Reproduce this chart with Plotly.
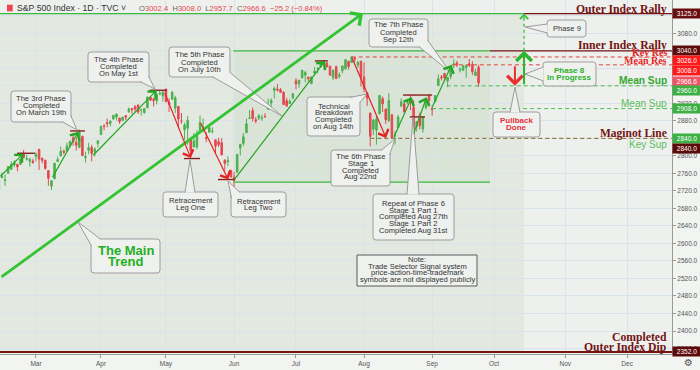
import plotly.graph_objects as go

# ---------------- data (S&P 500 Index, daily, 2019) ----------------
dates = [
    "2019-02-12", "2019-02-13", "2019-02-14", "2019-02-15", "2019-02-19", "2019-02-20",
    "2019-02-21", "2019-02-22", "2019-02-25", "2019-02-26", "2019-02-27", "2019-02-28",
    "2019-03-01", "2019-03-04", "2019-03-05", "2019-03-06", "2019-03-07", "2019-03-08",
    "2019-03-11", "2019-03-12", "2019-03-13", "2019-03-14", "2019-03-15", "2019-03-18",
    "2019-03-19", "2019-03-20", "2019-03-21", "2019-03-22", "2019-03-25", "2019-03-26",
    "2019-03-27", "2019-03-28", "2019-03-29",
    "2019-04-01", "2019-04-02", "2019-04-03", "2019-04-04", "2019-04-05", "2019-04-08",
    "2019-04-09", "2019-04-10", "2019-04-11", "2019-04-12", "2019-04-15", "2019-04-16",
    "2019-04-17", "2019-04-18", "2019-04-22", "2019-04-23", "2019-04-24", "2019-04-25",
    "2019-04-26", "2019-04-29", "2019-04-30",
    "2019-05-01", "2019-05-02", "2019-05-03", "2019-05-06", "2019-05-07", "2019-05-08",
    "2019-05-09", "2019-05-10", "2019-05-13", "2019-05-14", "2019-05-15", "2019-05-16",
    "2019-05-17", "2019-05-20", "2019-05-21", "2019-05-22", "2019-05-23", "2019-05-24",
    "2019-05-28", "2019-05-29", "2019-05-30", "2019-05-31",
    "2019-06-03", "2019-06-04", "2019-06-05", "2019-06-06", "2019-06-07", "2019-06-10",
    "2019-06-11", "2019-06-12", "2019-06-13", "2019-06-14", "2019-06-17", "2019-06-18",
    "2019-06-19", "2019-06-20", "2019-06-21", "2019-06-24", "2019-06-25", "2019-06-26",
    "2019-06-27", "2019-06-28",
    "2019-07-01", "2019-07-02", "2019-07-03", "2019-07-05", "2019-07-08", "2019-07-09",
    "2019-07-10", "2019-07-11", "2019-07-12", "2019-07-15", "2019-07-16", "2019-07-17",
    "2019-07-18", "2019-07-19", "2019-07-22", "2019-07-23", "2019-07-24", "2019-07-25",
    "2019-07-26", "2019-07-29", "2019-07-30", "2019-07-31",
    "2019-08-01", "2019-08-02", "2019-08-05", "2019-08-06", "2019-08-07", "2019-08-08",
    "2019-08-09", "2019-08-12", "2019-08-13", "2019-08-14", "2019-08-15", "2019-08-16",
    "2019-08-19", "2019-08-20", "2019-08-21", "2019-08-22", "2019-08-23", "2019-08-26",
    "2019-08-27", "2019-08-28", "2019-08-29", "2019-08-30",
    "2019-09-03", "2019-09-04", "2019-09-05", "2019-09-06", "2019-09-09", "2019-09-10",
    "2019-09-11", "2019-09-12", "2019-09-13", "2019-09-16", "2019-09-17", "2019-09-18",
    "2019-09-19", "2019-09-20", "2019-09-23", "2019-09-24",
]
opens = [
    2722.6, 2750.3, 2743.5, 2760.2, 2769.3, 2779.1, 2780.7, 2780.7, 2804.4, 2792.4, 2787.5, 2788.1,
    2798.2, 2814.4, 2794.4, 2790.3, 2766.5, 2730.8, 2747.6, 2787.3, 2799.8, 2810.4, 2810.8, 2822.6,
    2840.8, 2831.3, 2819.7, 2844.5, 2796.0, 2812.7, 2819.7, 2809.4, 2828.3,
    2848.6, 2868.2, 2876.1, 2874.0, 2884.2, 2888.5, 2886.6, 2881.4, 2891.9, 2900.9, 2908.3, 2912.3,
    2916.0, 2904.8, 2898.8, 2910.0, 2934.0, 2929.0, 2925.8, 2940.6, 2937.1,
    2952.3, 2922.2, 2929.2, 2908.9, 2913.0, 2879.6, 2859.8, 2863.1, 2840.2, 2820.1, 2820.4, 2855.8,
    2858.6, 2841.9, 2854.0, 2856.1, 2836.7, 2832.4, 2830.0, 2790.3, 2786.9, 2766.2,
    2751.5, 2762.6, 2818.1, 2828.5, 2852.9, 2885.8, 2903.3, 2882.7, 2886.2, 2886.8, 2889.8, 2906.7,
    2920.6, 2949.6, 2952.7, 2951.4, 2945.8, 2926.1, 2919.7, 2932.9,
    2971.4, 2964.7, 2978.1, 2984.3, 2979.8, 2965.5, 2989.3, 2999.6, 3003.4, 3017.8, 3012.1, 3005.1,
    2978.9, 3004.3, 2981.9, 2994.7, 2998.8, 3016.3, 3013.3, 3024.5, 3007.7, 3016.2,
    2980.3, 2943.9, 2898.1, 2861.2, 2858.7, 2896.2, 2930.5, 2907.1, 2880.7, 2894.2, 2846.2, 2864.7,
    2913.5, 2919.0, 2922.0, 2930.9, 2911.1, 2866.7, 2893.1, 2861.3, 2910.4, 2937.1,
    2909.0, 2924.7, 2960.6, 2980.3, 2988.4, 2971.0, 2981.4, 3009.1, 3012.2, 2996.4, 2995.7, 3001.5,
    3010.4, 3008.4, 2983.5, 3002.4,
]
highs = [
    2748.2, 2761.9, 2757.9, 2775.7, 2787.3, 2789.9, 2781.6, 2794.2, 2813.5, 2803.1, 2795.8, 2793.7,
    2808.0, 2816.9, 2796.4, 2790.3, 2766.5, 2744.1, 2784.0, 2798.3, 2821.2, 2815.0, 2830.7, 2835.4,
    2852.4, 2843.5, 2860.3, 2846.2, 2809.8, 2829.9, 2825.6, 2819.7, 2836.0,
    2869.4, 2872.9, 2885.3, 2881.3, 2893.2, 2896.0, 2886.9, 2889.7, 2893.4, 2910.5, 2909.6, 2916.1,
    2918.0, 2908.4, 2909.5, 2936.3, 2936.8, 2933.1, 2939.9, 2949.5, 2948.2,
    2954.1, 2931.7, 2947.9, 2937.3, 2913.0, 2898.0, 2876.0, 2891.3, 2840.2, 2852.5, 2858.7, 2892.2,
    2885.5, 2853.9, 2868.9, 2865.5, 2836.7, 2841.4, 2840.5, 2792.0, 2799.0, 2769.0,
    2763.1, 2804.5, 2827.3, 2852.1, 2885.0, 2904.8, 2910.6, 2888.6, 2895.2, 2894.5, 2897.3, 2930.8,
    2931.7, 2958.1, 2964.2, 2954.9, 2946.5, 2932.6, 2929.3, 2944.0,
    2977.9, 2973.2, 2995.8, 2994.0, 2980.8, 2981.9, 3003.0, 3002.3, 3013.9, 3017.8, 3015.0, 3005.3,
    2998.3, 3006.0, 2990.7, 3005.9, 3019.6, 3016.3, 3028.0, 3025.6, 3017.2, 3017.4,
    3013.6, 2945.5, 2898.1, 2884.4, 2892.2, 2938.7, 2935.8, 2907.6, 2943.3, 2894.2, 2856.7, 2893.6,
    2931.0, 2923.6, 2928.7, 2939.1, 2927.0, 2879.3, 2898.8, 2890.0, 2930.5, 2940.4,
    2914.4, 2938.8, 2985.9, 2985.0, 2989.4, 2979.4, 3000.9, 3020.7, 3017.3, 3002.2, 3006.2, 3007.8,
    3021.2, 3016.4, 2999.2, 3008.0,
]
lows = [
    2722.6, 2748.6, 2731.2, 2760.2, 2767.3, 2774.1, 2764.6, 2779.1, 2795.0, 2789.5, 2775.1, 2782.5,
    2787.4, 2767.7, 2783.0, 2768.7, 2732.1, 2722.3, 2747.6, 2786.7, 2799.8, 2803.5, 2810.8, 2822.0,
    2823.3, 2812.4, 2817.4, 2800.5, 2785.0, 2804.0, 2787.7, 2798.8, 2819.2,
    2848.6, 2858.8, 2865.2, 2867.1, 2883.0, 2880.8, 2873.3, 2879.1, 2882.0, 2898.4, 2896.5, 2900.7,
    2895.5, 2891.9, 2896.4, 2908.5, 2926.1, 2912.8, 2917.6, 2939.4, 2924.1,
    2923.4, 2900.5, 2929.2, 2898.2, 2862.6, 2873.3, 2836.4, 2825.4, 2801.4, 2820.1, 2815.1, 2855.8,
    2854.2, 2831.3, 2854.0, 2851.1, 2805.5, 2820.2, 2801.6, 2766.1, 2776.7, 2750.5,
    2728.8, 2762.6, 2800.9, 2822.5, 2852.9, 2885.5, 2878.5, 2874.7, 2882.0, 2879.6, 2887.3, 2905.4,
    2911.4, 2931.5, 2946.9, 2944.1, 2916.0, 2913.0, 2918.6, 2929.1,
    2952.2, 2955.9, 2978.0, 2968.0, 2970.1, 2963.4, 2984.6, 2988.8, 3001.9, 3008.8, 3001.2, 2984.3,
    2973.1, 2975.9, 2976.7, 2988.6, 2996.8, 2997.2, 3012.6, 3014.3, 3000.9, 2958.1,
    2945.2, 2914.1, 2822.1, 2847.4, 2825.7, 2894.5, 2900.2, 2873.1, 2877.1, 2839.6, 2825.5, 2864.7,
    2913.5, 2899.6, 2917.9, 2904.5, 2835.0, 2856.0, 2860.6, 2853.1, 2905.7, 2913.3,
    2891.9, 2921.9, 2960.6, 2972.5, 2969.4, 2957.0, 2975.3, 3000.9, 3002.9, 2990.7, 2993.7, 2978.6,
    3003.2, 2984.7, 2982.2, 2957.7,
]
closes = [
    2744.7, 2753.0, 2745.7, 2775.6, 2779.8, 2784.7, 2774.9, 2792.7, 2796.1, 2793.9, 2792.4, 2784.5,
    2803.7, 2792.8, 2789.7, 2771.5, 2748.9, 2743.1, 2783.3, 2791.5, 2810.9, 2808.5, 2822.5, 2832.9,
    2832.6, 2824.2, 2854.9, 2800.7, 2798.4, 2818.5, 2805.4, 2815.4, 2834.4,
    2867.2, 2867.2, 2873.4, 2879.4, 2892.7, 2895.8, 2878.2, 2888.2, 2888.3, 2907.4, 2905.6, 2907.1,
    2900.5, 2905.0, 2908.0, 2933.7, 2927.3, 2926.2, 2939.9, 2943.0, 2945.8,
    2923.7, 2917.5, 2945.6, 2932.5, 2884.1, 2879.4, 2870.7, 2881.4, 2811.9, 2834.4, 2851.0, 2876.3,
    2859.5, 2840.2, 2864.4, 2856.3, 2822.2, 2826.1, 2802.4, 2783.0, 2788.9, 2752.1,
    2744.5, 2803.3, 2826.2, 2843.5, 2873.3, 2886.7, 2885.7, 2879.8, 2891.6, 2887.0, 2889.7, 2917.8,
    2926.5, 2954.2, 2950.5, 2945.4, 2917.4, 2913.8, 2924.9, 2941.8,
    2964.3, 2973.0, 2995.8, 2990.4, 2976.0, 2979.6, 2993.1, 2999.9, 3013.8, 3014.3, 3004.0, 2984.4,
    2995.1, 2976.6, 2985.0, 3005.5, 3019.6, 3003.7, 3025.9, 3021.0, 3013.2, 2980.4,
    2953.6, 2932.1, 2844.7, 2881.8, 2884.0, 2938.1, 2918.7, 2882.7, 2926.3, 2840.6, 2847.6, 2888.7,
    2923.7, 2900.5, 2924.4, 2923.0, 2847.1, 2878.4, 2869.2, 2887.9, 2924.6, 2926.5,
    2906.3, 2937.8, 2976.0, 2978.7, 2978.4, 2979.4, 3000.9, 3009.6, 3007.4, 2998.0, 3005.7, 3006.7,
    3006.8, 2992.1, 2991.8, 2966.6,
]

holidays = ["2019-02-18", "2019-04-19", "2019-05-27", "2019-07-04", "2019-09-02", "2019-11-28"]
month_ticks = ["2019-03-01", "2019-04-01", "2019-05-01", "2019-06-03", "2019-07-01",
               "2019-08-01", "2019-09-03", "2019-10-01", "2019-11-01", "2019-12-02"]
month_labels = ["Mar", "Apr", "May", "Jun", "Jul", "Aug", "Sep", "Oct", "Nov", "Dec"]

# key price levels
OUTER_RALLY = 3125.0
INNER_RALLY = 3040.0
KEY_RES = 3026.0
MEAN_RES = 3008.0
LAST_PRICE = 2966.6
MEAN_SUP = 2960.0
MEAN_SUP_2 = 2908.0
MAGINOT = 2840.0
KEY_SUP = 2840.0
INNER_FLOOR = 2740.0
OUTER_DIP = 2352.0

# phase arrows: (start date, start price, end date, end price, kind)
phase_arrows = [
    ("2019-02-12 12:00", 2750, "2019-02-25 09:36", 2805, "up"),
    ("2019-03-08 14:00", 2748, "2019-03-21 04:00", 2855, "up"),
    ("2019-03-27 12:00", 2798, "2019-04-26 12:00", 2950, "up"),
    ("2019-04-30 22:48", 2947, "2019-05-13 12:00", 2795, "down"),
    ("2019-05-16 12:00", 2878, "2019-05-30 15:00", 2746, "down"),
    ("2019-06-03 06:00", 2743, "2019-07-15 21:36", 3017, "up"),
    ("2019-07-26 12:00", 3026, "2019-08-12 14:24", 2841, "down"),
    ("2019-08-14 22:48", 2840, "2019-08-22 21:36", 2934, "up"),
    ("2019-08-23 09:36", 2848, "2019-08-29 16:48", 2934, "up"),
    ("2019-09-03 08:24", 2909, "2019-09-11 19:12", 3008, "up"),
]
main_trend = ("2019-02-12 20:53", 2521, "2019-08-01 03:36", 3126)
pullback = ("2019-10-10 06:00", MEAN_RES, MEAN_SUP)
phase8 = ("2019-10-15 04:48", MEAN_SUP, INNER_RALLY)
phase9 = ("2019-10-15 04:48", INNER_RALLY, OUTER_RALLY)

# phase turning-point markers: (from, to, price)
peak_bars = [
    ("2019-02-21 09:36", "2019-03-01 04:48", 2806),
    ("2019-03-18 12:00", "2019-03-25 07:12", 2857),
    ("2019-04-24 07:12", "2019-05-01 19:12", 2950),
    ("2019-05-09 07:12", "2019-05-16 12:00", 2794),
    ("2019-05-24 07:12", "2019-06-03 19:12", 2746),
    ("2019-07-10 14:24", "2019-07-16 19:12", 3017),
    ("2019-08-20 02:24", "2019-09-03 12:00", 2939),
    ("2019-08-22 07:12", "2019-08-29 04:48", 2889),
]

X_LEFT = "2019-02-12 20:53"
X_RIGHT = "2019-12-20 23:59"
ZONE_END = "2019-10-15 04:48"
BOX_START = "2019-06-03 06:00"
BOX_END = "2019-09-30 04:48"
Y_RANGE = [2347.5, 3156.1]

# ---------------- styling ----------------
W, H = 700, 370
MR, MB = 28, 16
PW, PH = W - MR, H - MB

ARROW_GREEN = "#22a722"
RED = "#e52222"
DARK_RED = "#741414"
UP_C = "#4cb050"
DN_C = "#e5474f"
GRID = "#d9e3ea"
SANS = "Liberation Sans, Arial, sans-serif"
SERIF = "Liberation Serif, Times New Roman, serif"


def P(x, y):
    return f"{x / PW:.5f},{1 - y / PH:.5f}"


def rr_path(x0, y0, x1, y1, r=3.0):
    return (f"M{P(x0 + r, y0)} L{P(x1 - r, y0)} Q{P(x1, y0)} {P(x1, y0 + r)} "
            f"L{P(x1, y1 - r)} Q{P(x1, y1)} {P(x1 - r, y1)} L{P(x0 + r, y1)} "
            f"Q{P(x0, y1)} {P(x0, y1 - r)} L{P(x0, y0 + r)} Q{P(x0, y0)} {P(x0 + r, y0)} Z")


fig = go.Figure()
fig.add_trace(go.Candlestick(
    x=[d + " 12:00" for d in dates], open=opens, high=highs, low=lows, close=closes,
    increasing=dict(line=dict(color=UP_C, width=1), fillcolor=UP_C),
    decreasing=dict(line=dict(color=DN_C, width=1), fillcolor=DN_C),
    whiskerwidth=0, showlegend=False, hoverinfo="skip",
))

shapes = []
annotations = []

# shaded zones
shapes.append(dict(type="rect", xref="x", yref="y", x0="2019-02-01", x1=ZONE_END,
                   y0=OUTER_DIP, y1=OUTER_RALLY, fillcolor="#e3e9e1", line_width=0, layer="below"))
shapes.append(dict(type="rect", xref="x", yref="y", x0=BOX_START, x1=BOX_END,
                   y0=INNER_FLOOR, y1=INNER_RALLY, fillcolor="#d9e3d6", line_width=0, layer="below"))


def hline(x0, x1, y, color, width=1.0, dash="solid", layer="above"):
    shapes.append(dict(type="line", xref="x", yref="y", x0=x0, x1=x1, y0=y, y1=y,
                       line=dict(color=color, width=width, dash=dash), layer=layer))


hline("2019-02-01", ZONE_END, OUTER_RALLY, "#3cb83c", 1.3)
hline(ZONE_END, X_RIGHT, OUTER_RALLY, DARK_RED, 1.3)
hline(BOX_START, BOX_END, INNER_RALLY, "#3cb83c", 1.1)
hline(BOX_END, X_RIGHT, INNER_RALLY, DARK_RED, 1.3)
hline(BOX_START, BOX_END, INNER_FLOOR, "#3cb83c", 1.1)
hline("2019-07-26 12:00", X_RIGHT, KEY_RES, "#e84040", 1, "4px,3px")
hline("2019-09-11 21:36", X_RIGHT, MEAN_RES, "#e84040", 1, "4px,3px")
hline("2019-09-10 04:48", X_RIGHT, MEAN_SUP, "#4cbb4c", 1, "4px,3px")
hline("2019-09-03 12:00", X_RIGHT, MEAN_SUP_2, "#4cbb4c", 1, "4px,3px")
hline("2019-08-05 12:00", X_RIGHT, MAGINOT, "#b23a2a", 1, "4px,3px")
hline("2019-08-05 14:00", X_RIGHT, KEY_SUP, "#5cb83c", 1, "2px,5px")
hline("2019-02-01", X_RIGHT, OUTER_DIP, DARK_RED, 2)

for x0, x1, v in peak_bars:
    hline(x0, x1, v, "#8a1f1f", 1.4)

# phase 9 dotted projection
shapes.append(dict(type="line", xref="x", yref="y", x0=phase9[0], x1=phase9[0],
                   y0=phase9[1], y1=phase9[2] - 4, line=dict(color="#3cbf3c", width=1.3, dash="dot")))


def arrow(x0, y0, x1, y1, color, width, head=4, size=1.6):
    annotations.append(dict(x=x1, y=y1, ax=x0, ay=y0, xref="x", yref="y", axref="x", ayref="y",
                            text="", showarrow=True, arrowhead=head, arrowsize=size,
                            arrowwidth=width, arrowcolor=color, standoff=0, startstandoff=0))


arrow(*main_trend, color="#33c433", width=2.8, head=4, size=1.1)
for x0, y0, x1, y1, kind in phase_arrows:
    arrow(x0, y0, x1, y1, ARROW_GREEN if kind == "up" else RED, 1.2, head=4, size=1.8)
arrow(pullback[0], pullback[1], pullback[0], pullback[2], "#e83030", 2.0, head=4, size=1.5)
arrow(phase8[0], phase8[1], phase8[0], phase8[2], "#2cb52c", 2.0, head=4, size=1.5)
annotations.append(dict(x=phase9[0], y=phase9[2], xref="x", yref="y", ax=0, ay=7, text="",
                        showarrow=True, arrowhead=4, arrowsize=1.6, arrowwidth=1,
                        arrowcolor="#3cbf3c", standoff=0))

# callouts (layout positions in pixels of the plot area)
callouts = [
    (["The 3rd Phase", "Completed", "On March 19th"], (11, 91, 71, 122), (77, 130), ((62, 121.5), (70.5, 115)), 98.3, 7.0, None),
    (["The 4th Phase", "Completed", "On May 1st"], (88, 52, 149, 82), (155, 89), ((140, 81.5), (148.5, 76)), 59.7, 7.1, None),
    (["The 5th Phase", "Completed", "On July 10th"], (169, 47, 230, 77), (282, 116), ((212, 76.5), (229.5, 72)), 55, 7.1, None),
    (["Retracement", "Leg One"], (163, 192, 218, 217), (190, 160), ((185, 192.5), (195, 192.5)), 200.7, 6.8, None),
    (["Retracement", "Leg Two"], (231, 192, 286, 217), (228, 181), ((231.5, 198), (240, 192.5)), 201, 6.8, None),
    (["The Main", "Trend"], (91, 239, 160, 273), (78, 222), ((91.5, 246), (101, 239.5)), 250, 11.3, ("#22b022", 13)),
    (["Technical", "Breakdown", "Completed", "on Aug 14th"], (307, 97, 360, 136), (367, 94), ((350, 97.5), (359.5, 103)), 106, 6.9, None),
    (["The 6th Phase", "Stage 1", "Completed", "Aug 22nd"], (331, 150, 390, 186), (395, 139), ((381, 150.5), (389.5, 155)), 156.7, 6.7, None),
    (["Repeat of Phase 6", "Stage 1 Part 1", "Completed Aug 27th", "Stage 1 Part 2", "Completed Aug 31st"],
     (373, 194, 454, 240), (413, 117), ((407, 194.5), (419, 194.5)), 203.3, 6.85, None),
    (["The 7th Phase", "Completed", "Sep 12th"], (369, 19, 428, 47), (450, 72), ((419, 46.5), (427.5, 40)), 25, 7.0, None),
    (["Phase 9"], (547, 20, 586, 37), (525, 27), ((547.5, 24), (547.5, 33)), 28.5, 0, None),
    (["Phase 8", "In Progress"], (543, 62, 596, 86), (525, 74), ((543.5, 67), (543.5, 81)), 70.5, 7.0, ("#28b028", 8)),
    (["Pullback", "Done"], (493, 112, 540, 137), (515, 87), ((510, 112.5), (520, 112.5)), 120, 7.3, ("#e8333a", 8)),
]
for lines, (x0, y0, x1, y1), tip, (b1, b2), ly0, dy, style in callouts:
    shapes.append(dict(type="path", xref="paper", yref="paper", path=rr_path(x0, y0, x1, y1),
                       fillcolor="#eff1ef", line=dict(color="#9c9c9c", width=1)))
    shapes.append(dict(type="path", xref="paper", yref="paper",
                       path=f"M{P(*b1)} L{P(*tip)} L{P(*b2)}",
                       fillcolor="#eff1ef", line=dict(color="#9c9c9c", width=1)))
    for k, t in enumerate(lines):
        if style:
            font = dict(family=SANS, size=style[1], color=style[0], weight="bold")
        else:
            font = dict(family=SANS, size=7.6, color="#333333")
        annotations.append(dict(x=(x0 + x1) / 2 / PW, y=1 - (ly0 + k * dy) / PH, xref="paper", yref="paper",
                                text=t, showarrow=False, xanchor="center", yanchor="middle", font=font))

# note box
shapes.append(dict(type="rect", xref="paper", yref="paper", x0=357 / PW, x1=477 / PW,
                   y0=1 - 286 / PH, y1=1 - 255 / PH, fillcolor="#eff1ef", line=dict(color="#5a5a5a", width=1)))
for k, t in enumerate(["Note:", "Trade Selector Signal system", "price-action-time-trademark",
                       "symbols are not displayed publicly"]):
    annotations.append(dict(x=417 / PW, y=1 - (259.3 + k * 6.7) / PH, xref="paper", yref="paper", text=t,
                            showarrow=False, xanchor="center", yanchor="middle",
                            font=dict(family=SANS, size=7.6, color="#333333")))

# level names on the right
level_texts = [
    ("Outer Index Rally", OUTER_RALLY, 4.5, SERIF, 11.7, DARK_RED, "bold"),
    ("Inner Index Rally", INNER_RALLY, 5, SERIF, 11.7, DARK_RED, "bold"),
    ("Key Res", KEY_RES, 4, SERIF, 10, "#e52525", "bold"),
    ("Mean Res", MEAN_RES, 4.3, SERIF, 10, "#e52525", "bold"),
    ("Mean Sup", MEAN_SUP, 5, SANS, 10.2, "#36a832", "bold"),
    ("Mean Sup", MEAN_SUP_2, 5.6, SANS, 10, "#5cbf5c", "normal"),
    ("Maginot Line", MAGINOT, 5, SERIF, 11.5, DARK_RED, "bold"),
    ("Key Sup", KEY_SUP, -6.6, SANS, 10, "#5cbf5c", "normal"),
    ("Completed", OUTER_DIP, 15, SERIF, 11.7, DARK_RED, "bold"),
    ("Outer Index Dip", OUTER_DIP, 5, SERIF, 11.7, DARK_RED, "bold"),
]
for t, v, sh, fam, sz, col, wt in level_texts:
    annotations.append(dict(x=669 / PW, y=v, xref="paper", yref="y", yshift=sh, text=t, showarrow=False,
                            xanchor="right", yanchor="middle",
                            font=dict(family=fam, size=sz, color=col, weight=wt)))

# price boxes on the axis
price_boxes = [
    (OUTER_RALLY, 0, "#6a0d0d"), (INNER_RALLY, 0, "#5c0a0a"), (KEY_RES, -4, "#ff1a1a"),
    (MEAN_RES, -6, "#ff1a1a"), (LAST_PRICE, 1, "#ec5666"), (MEAN_SUP, -5, "#3cb043"),
    (MEAN_SUP_2, 0, "#3cb043"), (KEY_SUP, 0, "#3cb043"), (MAGINOT, -10, "#5c0a0a"),
    (OUTER_DIP, 1, "#5c0a0a"),
]
for v, sh, bg in price_boxes:
    annotations.append(dict(x=1, y=v, xref="paper", yref="y", yshift=sh, text=f"{v:.1f}", showarrow=False,
                            xanchor="left", yanchor="middle", width=28, height=9, bgcolor=bg, borderpad=0,
                            align="center", font=dict(family=SANS, size=6.5, color="white")))

# header legend
shapes.append(dict(type="rect", xref="paper", yref="paper", x0=7 / PW, x1=12.7 / PW,
                   y0=1 - 11.3 / PH, y1=1 - 4.7 / PH, fillcolor="#f0444c", line_width=0))
annotations.append(dict(x=15 / PW, y=1 - 8 / PH, xref="paper", yref="paper", xanchor="left", yanchor="middle",
                        text="S&P 500 Index · 1D · TVC ˅", showarrow=False,
                        font=dict(family=SANS, size=8.7, color="#333333")))
red_span = "<span style='color:#e8434d'>{}</span>"
ohlc_text = ("O" + red_span.format("3002.4") + "  H" + red_span.format("3008.0") + "  L" +
             red_span.format("2957.7") + "  C" + red_span.format("2966.6") + "  " +
             red_span.format("−25.2 (−0.84%)"))
annotations.append(dict(x=137 / PW, y=1 - 8 / PH, xref="paper", yref="paper", xanchor="left", yanchor="middle",
                        text=ohlc_text, showarrow=False, font=dict(family=SANS, size=7.6, color="#666666")))
annotations.append(dict(x=688 / PW, y=1 - 362 / PH, xref="paper", yref="paper", xanchor="center",
                        yanchor="middle", text="⚙", showarrow=False,
                        font=dict(family="DejaVu Sans", size=10, color="#555555")))

fig.update_layout(
    width=W, height=H,
    margin=dict(l=0, r=MR, t=0, b=MB, autoexpand=False),
    paper_bgcolor="#f2f4f2", plot_bgcolor="#edf0ed",
    font=dict(family=SANS),
    showlegend=False,
    shapes=shapes, annotations=annotations,
    xaxis=dict(
        type="date", range=[X_LEFT, X_RIGHT], automargin=False,
        rangebreaks=[dict(bounds=["sat", "mon"]), dict(values=holidays)],
        tickvals=[d + " 12:00" for d in month_ticks], ticktext=month_labels,
        showgrid=True, gridcolor=GRID, gridwidth=1, zeroline=False,
        ticks="outside", ticklen=3, tickcolor="#9a9a9a",
        tickfont=dict(size=6.5, color="#555555"),
        showline=True, linecolor="#9a9a9a", linewidth=1,
        rangeslider=dict(visible=False), fixedrange=True,
    ),
    yaxis=dict(
        side="right", range=Y_RANGE, dtick=40, tick0=0, tickformat=".1f", automargin=False,
        showgrid=True, gridcolor=GRID, gridwidth=1, zeroline=False,
        ticks="outside", ticklen=3, tickcolor="#9a9a9a",
        tickfont=dict(size=6.5, color="#555555"),
        showline=True, linecolor="#9a9a9a", linewidth=1, fixedrange=True,
    ),
)

fig.write_html("out.html", config={"displayModeBar": False},
               post_script="document.body.style.margin='0px';document.body.style.padding='0px';")
